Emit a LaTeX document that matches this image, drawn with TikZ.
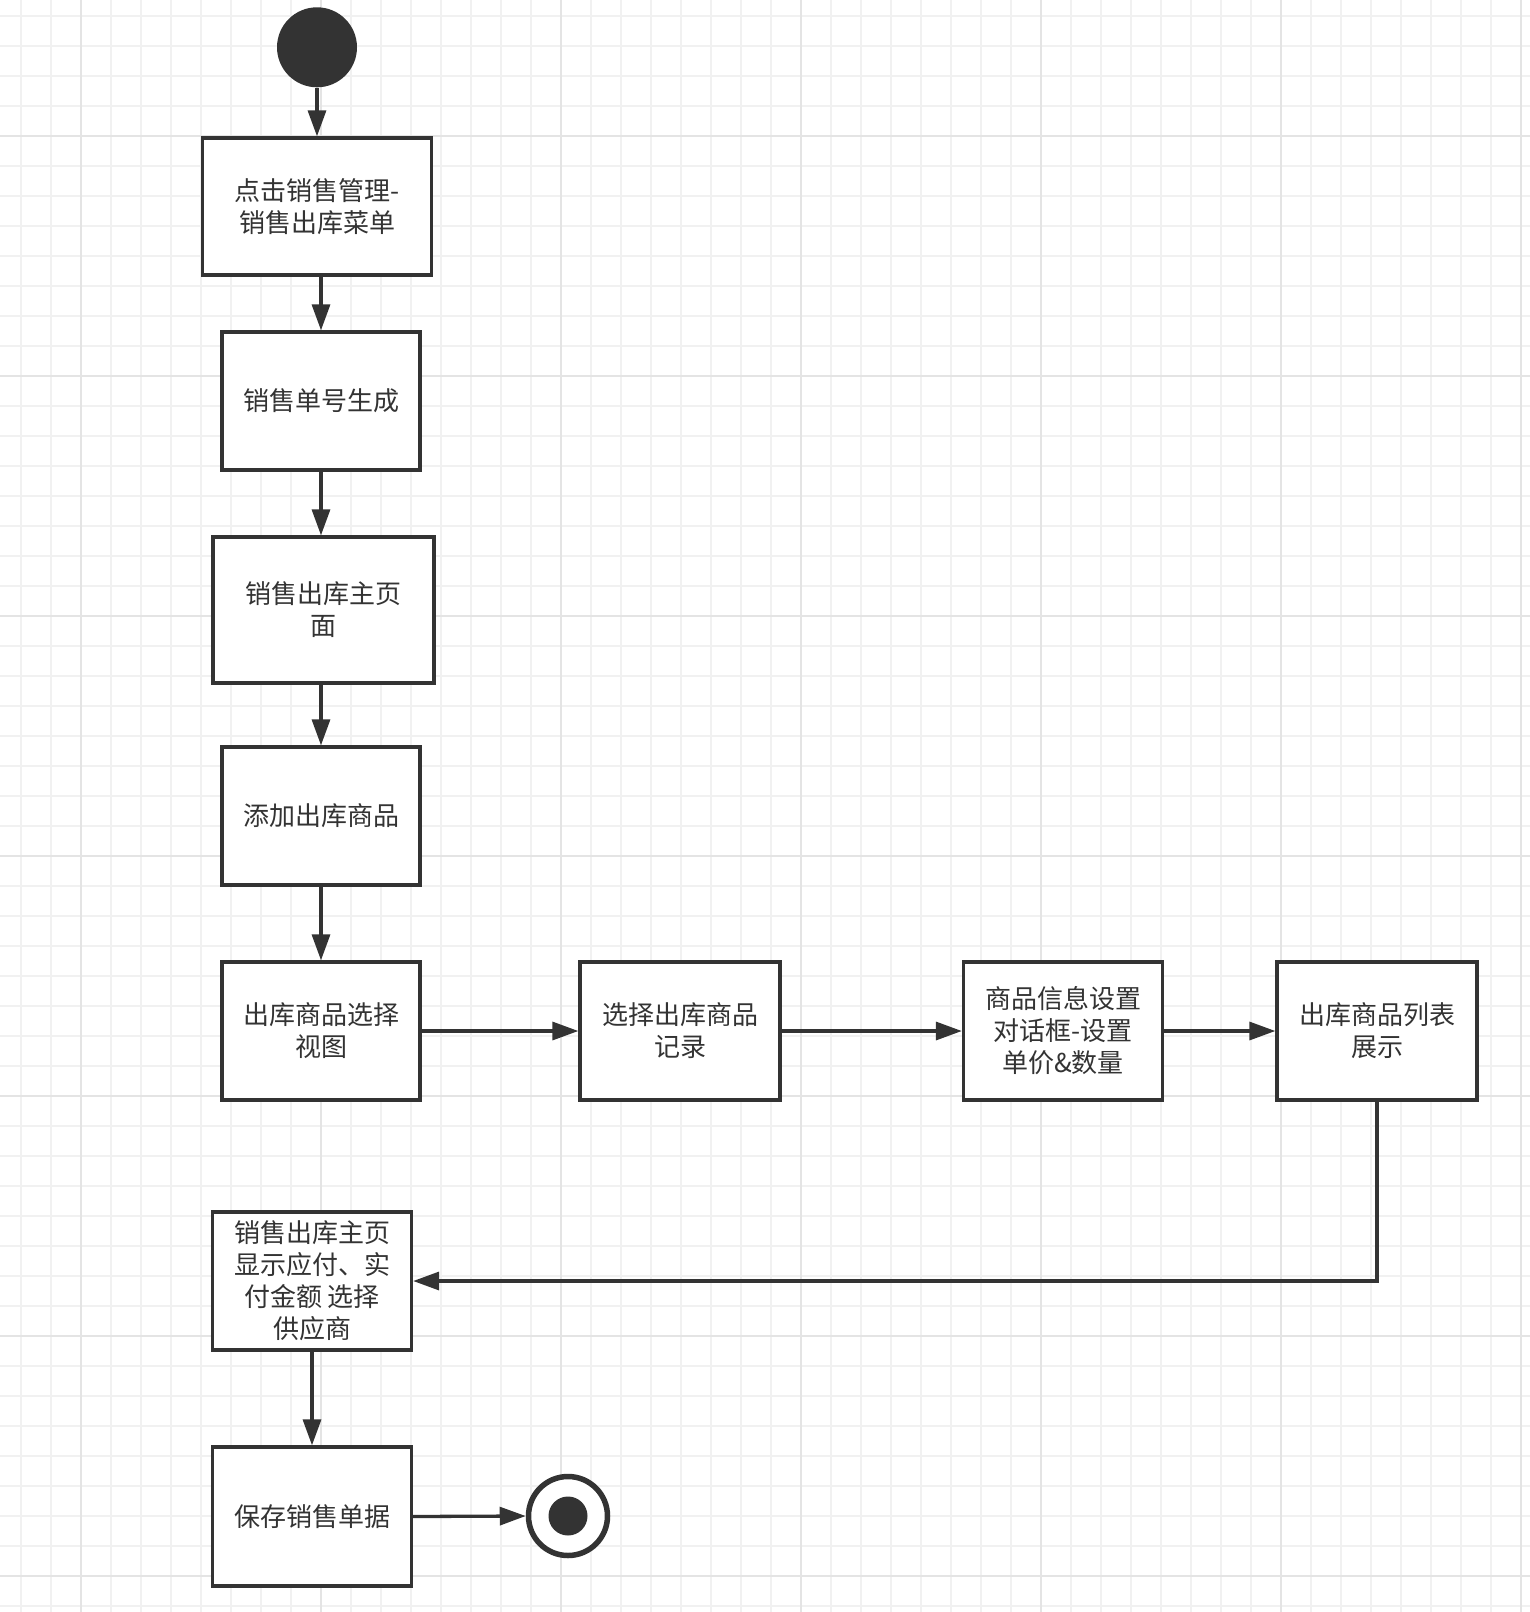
\documentclass[tikz,border=0pt]{standalone}
\usepackage{fontspec}
\newfontfamily\cjk{Noto Sans CJK SC}
\usetikzlibrary{arrows.meta}
\definecolor{ink}{HTML}{333333}
\definecolor{gminor}{HTML}{F1F1F1}
\definecolor{gmajor}{HTML}{E4E4E4}
\tikzset{
  box/.style={draw=ink, line width=3.3pt, fill=white, align=center, text=ink,
    font=\cjk\fontsize{26}{32}\selectfont, inner sep=0pt},
  arr/.style={draw=ink, line width=3.3pt, -{Triangle[length=26pt,width=18pt]}},
  link/.style={draw=ink, line width=3.3pt},
  minorline/.style={gminor, line width=1.6pt},
  majorline/.style={gmajor, line width=2pt}
}
\begin{document}
\begin{tikzpicture}[x=1pt,y=-1pt]
\useasboundingbox (0,0) rectangle (1530,1612);
\fill[white] (0,0) rectangle (1530,1612);
% grid
\foreach \x in {21,51,...,1530} \draw[minorline] (\x,0) -- (\x,1612);
\foreach \y in {16,46,...,1612} \draw[minorline] (0,\y) -- (1530,\y);
\foreach \x in {81,321,...,1530} \draw[majorline] (\x,0) -- (\x,1612);
\foreach \y in {136,376,...,1612} \draw[majorline] (0,\y) -- (1530,\y);

% start
\node[circle, fill=ink, minimum size=80pt, inner sep=0pt] (start) at (317,47.3) {};

% boxes
\node[box, minimum width=229pt, minimum height=137pt] (b1) at (317,206.5) {点击销售管理-\\销售出库菜单};
\node[box, minimum width=198pt, minimum height=138pt] (b2) at (321,401) {销售单号生成};
\node[box, minimum width=221pt, minimum height=146pt] (b3) at (323.5,610) {销售出库主页\\面};
\node[box, minimum width=198pt, minimum height=138pt] (b4) at (321,816) {添加出库商品};
\node[box, minimum width=198pt, minimum height=138pt] (b5) at (321,1031) {出库商品选择\\视图};
\node[box, minimum width=200pt, minimum height=138pt] (b6) at (680,1031) {选择出库商品\\记录};
\node[box, minimum width=199pt, minimum height=138pt] (b7) at (1063,1031) {商品信息设置\\对话框-设置\\单价\&数量};
\node[box, minimum width=200pt, minimum height=138pt] (b8) at (1377,1031) {出库商品列表\\展示};
\node[box, minimum width=199pt, minimum height=138pt] (b9) at (312,1281) {销售出库主页\\显示应付、实\\付金额 选择\\供应商};
\node[box, minimum width=199pt, minimum height=139pt] (b10) at (312,1516.5) {保存销售单据};

% end
\node[circle, draw=ink, line width=5.5pt, fill=white, minimum size=79pt, inner sep=0pt] (fin) at (568,1516) {};
\fill[ink] (fin.center) circle (19.5pt);

% connectors
\draw[arr] (start.south) -- (b1.north);
\draw[arr] (b1.south -| b2.north) -- (b2.north);
\draw[arr] (b2.south) -- (b2.south |- b3.north);
\draw[arr] (b3.south -| b4.north) -- (b4.north);
\draw[arr] (b4.south) -- (b5.north);
\draw[arr] (b5.east) -- (b6.west);
\draw[arr] (b6.east) -- (b7.west);
\draw[arr] (b7.east) -- (b8.west);
\draw[arr] (b8.south) |- (b9.east);
\draw[arr] (b9.south) -- (b10.north);
\draw[arr] (b10.east) -- (fin.west);
\end{tikzpicture}
\end{document}
